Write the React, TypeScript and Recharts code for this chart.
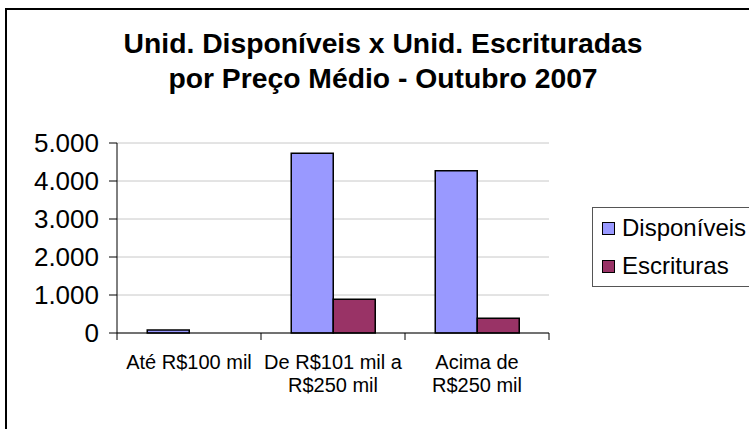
import React from "react";
import { BarChart, Bar, XAxis, YAxis, CartesianGrid } from "recharts";

const categories = ["Até R$100 mil", "De R$101 mil a\nR$250 mil", "Acima de\nR$250 mil"];
const disponiveis = [80, 4730, 4270];
const escrituras = [0, 890, 390];
const yTicks = [0, 1000, 2000, 3000, 4000, 5000];
const seriesNames = ["Disponíveis", "Escrituras"];
const seriesColors = ["#9999FF", "#993366"];

const data = categories.map((c, i) => ({
    name: c,
    disp: disponiveis[i],
    escr: escrituras[i],
}));

const FONT = "'Liberation Sans', Arial, sans-serif";
const CHART_W = 749;
const CHART_H = 429;
const MARGIN = { top: 143, right: 200, bottom: 36, left: 27 };
const Y_AXIS_W = 90;
const PLOT_W = CHART_W - MARGIN.left - MARGIN.right - Y_AXIS_W;
const BAND = PLOT_W / categories.length;

const fmt = (v: number) => String(v).replace(/\B(?=(\d{3})+(?!\d))/g, ".");

function CategoryTick(props: any) {
    const { x, y, payload, index } = props;
    const lines = String(payload.value).split("\n");
    const left = x - BAND / 2;
    return (
        <g>
            <line x1={left} x2={left} y1={y - 8} y2={y - 1} stroke="#000" />
            {index === categories.length - 1 && (
                <line x1={left + BAND} x2={left + BAND} y1={y - 8} y2={y - 1} stroke="#000" />
            )}
            <text x={x} y={y + 28} textAnchor="middle" fontSize={20} fontFamily={FONT} fill="#000">
                {lines.map((l, i) => (
                    <tspan key={i} x={x} dy={i === 0 ? 0 : 23}>{l}</tspan>
                ))}
            </text>
        </g>
    );
}

function LegendBox() {
    return (
        <div style={{ position: "absolute", left: 592, top: 207, border: "1px solid #555", width: 170, height: 78, fontFamily: FONT, fontSize: 24, color: "#000", background: "#fff" }}>
            {seriesNames.map((n, i) => (
                <div key={n} style={{ display: "flex", alignItems: "center", height: 38, marginTop: i === 0 ? 1 : 0 }}>
                    <span style={{ display: "inline-block", width: 11, height: 11, background: seriesColors[i], border: "1.5px solid #000", marginLeft: 9, marginRight: 7 }} />
                    <span>{n}</span>
                </div>
            ))}
        </div>
    );
}

export default function App() {
    return (
        <div style={{ position: "fixed", left: 0, top: 0, width: CHART_W, height: CHART_H, overflow: "hidden", background: "#fff" }}>
            <div style={{ position: "absolute", left: 5, top: 8, width: 900, height: 600, border: "2px solid #000" }} />
            <div style={{ position: "absolute", left: 83, top: 26, width: 600, textAlign: "center", fontFamily: FONT, fontWeight: "bold", fontSize: 28.3, lineHeight: "35px", color: "#000" }}>
                Unid. Disponíveis x Unid. Escrituradas<br />por Preço Médio - Outubro 2007
            </div>
            <div style={{ position: "absolute", left: 0, top: 0 }}>
                <BarChart width={CHART_W} height={CHART_H} data={data} margin={MARGIN} barCategoryGap="21%" barGap={0}>
                    <CartesianGrid vertical={false} stroke="#c8c8c8" />
                    <XAxis dataKey="name" stroke="#000" tickLine={false} tick={<CategoryTick />} height={60} interval={0} />
                    <YAxis
                        width={Y_AXIS_W}
                        domain={[0, 5000]}
                        ticks={yTicks}
                        interval={0}
                        tickFormatter={fmt}
                        stroke="#000"
                        tickSize={8}
                        tickMargin={10}
                        tick={{ fontSize: 26, fill: "#000", fontFamily: FONT }}
                    />
                    <Bar dataKey="disp" name={seriesNames[0]} fill={seriesColors[0]} stroke="#000" strokeWidth={1.5} isAnimationActive={false} />
                    <Bar dataKey="escr" name={seriesNames[1]} fill={seriesColors[1]} stroke="#000" strokeWidth={1.5} isAnimationActive={false} />
                </BarChart>
            </div>
            <LegendBox />
        </div>
    );
}
